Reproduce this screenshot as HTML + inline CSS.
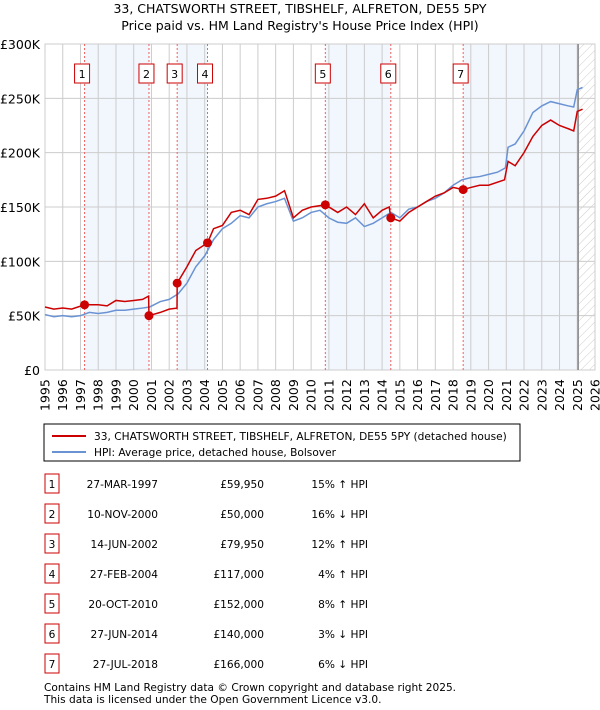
<!DOCTYPE html>
<html><head><meta charset="utf-8"><style>
body{margin:0;background:#fff;font-family:"DejaVu Sans","Liberation Sans",sans-serif;}
#wrap{position:relative;width:600px;height:710px;overflow:hidden}
.t{font-family:"DejaVu Sans","Liberation Sans",sans-serif;fill:#000}
</style></head><body><div id="wrap">
<svg id="svg" width="600" height="710" xmlns="http://www.w3.org/2000/svg">
<defs><pattern id="hatch" width="6" height="6" patternUnits="userSpaceOnUse" patternTransform="rotate(45)"><line x1="0" y1="0" x2="0" y2="6" stroke="#ccc" stroke-width="1"/></pattern></defs>
<text class="t" x="300" y="13" text-anchor="middle" style="font-size:12.5px">33, CHATSWORTH STREET, TIBSHELF, ALFRETON, DE55 5PY</text>
<text class="t" x="300" y="30" text-anchor="middle" style="font-size:12.5px">Price paid vs. HM Land Registry's House Price Index (HPI)</text>
<g id="plot"></g>
<rect x="44" y="424" width="476" height="37" fill="#fff" stroke="#000" stroke-width="1"/>
<line x1="52" y1="436" x2="86" y2="436" stroke="#cc0000" stroke-width="2"/>
<text class="t" x="94" y="440" style="font-size:10.6px">33, CHATSWORTH STREET, TIBSHELF, ALFRETON, DE55 5PY (detached house)</text>
<line x1="52" y1="452" x2="86" y2="452" stroke="#6a93d4" stroke-width="2"/>
<text class="t" x="94" y="456" style="font-size:10.6px">HPI: Average price, detached house, Bolsover</text>
<g id="table"></g>
<text class="t" x="44" y="691" fill="#333" style="font-size:10.6px">Contains HM Land Registry data © Crown copyright and database right 2025.</text>
<text class="t" x="44" y="703" fill="#333" style="font-size:10.6px">This data is licensed under the Open Government Licence v3.0.</text>
</svg></div>
<script>
const yTicks=[0,50,100,150,200,250,300];
const yTickLabels=["£0","£50K","£100K","£150K","£200K","£250K","£300K"];
const years=[1995,1996,1997,1998,1999,2000,2001,2002,2003,2004,2005,2006,2007,2008,2009,2010,2011,2012,2013,2014,2015,2016,2017,2018,2019,2020,2021,2022,2023,2024,2025,2026];
const hpiX=[1995,1995.5,1996,1996.5,1997,1997.5,1998,1998.5,1999,1999.5,2000,2000.5,2000.9,2001.5,2002,2002.5,2003,2003.5,2004,2004.5,2005,2005.5,2006,2006.5,2007,2007.5,2008,2008.5,2009,2009.5,2010,2010.5,2011,2011.5,2012,2012.5,2013,2013.5,2014,2014.5,2015,2015.5,2016,2016.5,2017,2017.5,2018,2018.5,2019,2019.5,2020,2020.5,2020.95,2021.1,2021.5,2022,2022.5,2023,2023.5,2024,2024.5,2024.8,2025,2025.3];
const hpiY=[51,49,50,49,50,53,52,53,55,55,56,57,58,63,65,70,80,95,105,120,130,135,142,140,150,153,155,158,137,140,145,147,140,136,135,140,132,135,140,145,140,148,150,155,158,163,170,175,177,178,180,182,186,205,208,220,237,243,247,245,243,242,258,260];
const ppX=[1995,1995.5,1996,1996.5,1997.23,1998,1998.5,1999,1999.5,2000,2000.5,2000.84,2000.86,2001.5,2002,2002.44,2002.45,2003,2003.5,2004.16,2004.5,2005,2005.5,2006,2006.5,2007,2007.5,2008,2008.5,2009,2009.5,2010,2010.8,2011.5,2012,2012.5,2013,2013.5,2014,2014.4,2014.49,2015,2015.5,2016,2016.5,2017,2017.5,2018,2018.57,2019,2019.5,2020,2020.9,2021.1,2021.5,2022,2022.5,2023,2023.5,2024,2024.5,2024.8,2025,2025.3];
const ppY=[58,56,57,56,60,60,59,64,63,64,65,68,50,53,56,57,80,95,110,117,130,133,145,147,143,157,158,160,165,140,147,150,152,145,150,143,153,140,147,150,140,137,145,150,155,160,163,168,166,168,170,170,175,192,188,200,215,225,230,225,222,220,238,240];
const saleLabels=["1","2","3","4","5","6","7"];
const saleX=[1997.23,2000.86,2002.45,2004.16,2010.8,2014.49,2018.57];
const saleY=[59.95,50,79.95,117,152,140,166];
const saleDates=["27-MAR-1997","10-NOV-2000","14-JUN-2002","27-FEB-2004","20-OCT-2010","27-JUN-2014","27-JUL-2018"];
const salePrices=["£59,950","£50,000","£79,950","£117,000","£152,000","£140,000","£166,000"];
const saleHpi=["15% ↑ HPI","16% ↓ HPI","12% ↑ HPI","4% ↑ HPI","8% ↑ HPI","3% ↓ HPI","6% ↓ HPI"];
const NS="http://www.w3.org/2000/svg";
const X0=45,X1=595,Y0=370,Y1=44;
const sx=v=>X0+(v-1995)/31*(X1-X0);
const sy=v=>Y0-v/300*(Y0-Y1);
const plot=document.getElementById('plot');
function mk(tag,attrs,parent){const e=document.createElementNS(NS,tag);for(const k in attrs)e.setAttribute(k,attrs[k]);(parent||plot).appendChild(e);return e;}
const bands=[[0,1],[2,3],[4,5]];
bands.forEach(b=>{const r=mk('rect',{x:sx(saleX[b[0]]),y:Y1,width:sx(saleX[b[1]])-sx(saleX[b[0]]),height:Y0-Y1,fill:'#eef3fc',opacity:0.75});

});
const lb=mk('rect',{x:sx(saleX[6]),y:Y1,width:sx(2025.05)-sx(saleX[6]),height:Y0-Y1,fill:'#eef3fc',opacity:0.75});


const ht=mk('rect',{x:sx(2025.05),y:Y1,width:X1-sx(2025.05),height:Y0-Y1,fill:'url(#hatch)'});


years.forEach(y=>{const l=mk('line',{x1:sx(y),x2:sx(y),y1:Y1,y2:Y0,stroke:'#ccc','stroke-width':1});


const t=mk('text',{class:'t',transform:`translate(${sx(y)+4.5},${Y0+41}) rotate(-90)`,style:'font-size:12.5px'});t.textContent=y;

});
yTicks.forEach((v,i)=>{const l=mk('line',{x1:X0,x2:X1,y1:sy(v),y2:sy(v),stroke:'#ccc','stroke-width':1});


const t=mk('text',{class:'t',x:40,y:sy(v)+5,'text-anchor':'end',style:'font-size:12.5px'});t.textContent=yTickLabels[i];

});
const bd=mk('rect',{x:X0,y:Y1,width:X1-X0,height:Y0-Y1,fill:'none',stroke:'#ccc'});


const nl=mk('line',{x1:sx(2025.05),x2:sx(2025.05),y1:Y1,y2:Y0,stroke:'#888','stroke-width':1.5});


saleX.forEach((x,i)=>{const l=mk('line',{x1:sx(x),x2:sx(x),y1:Y1,y2:Y0,stroke:'#f06060','stroke-width':1,'stroke-dasharray':'2,2'});


const r=mk('rect',{x:sx(x)-10,y:64,width:15,height:19,fill:'#fff',stroke:'#cc0000'});


const t=mk('text',{class:'t',x:sx(x)-2.5,y:78,'text-anchor':'middle',style:'font-size:11px'});t.textContent=saleLabels[i];

});
const hp=mk('polyline',{points:hpiX.map((x,i)=>sx(x)+','+sy(hpiY[i])).join(' '),fill:'none',stroke:'#6a93d4','stroke-width':1.5});


const pp=mk('polyline',{points:ppX.map((x,i)=>sx(x)+','+sy(ppY[i])).join(' '),fill:'none',stroke:'#cc0000','stroke-width':1.5});


saleX.forEach((x,i)=>{const c=mk('circle',{cx:sx(x),cy:sy(saleY[i]),r:4.5,fill:'#cc0000'});

});
const tb=document.getElementById('table');
saleLabels.forEach((s,i)=>{const y=484+i*30;
const r=mk('rect',{x:45,y:y-10,width:14,height:19,fill:'#fff',stroke:'#cc0000'},tb);


const vals=[[52,s,'middle'],[158,saleDates[i],'end'],[264,salePrices[i],'end'],[368,saleHpi[i],'end']];
vals.forEach(v=>{const t=mk('text',{class:'t',x:v[0],y:y+4,'text-anchor':v[2],style:'font-size:10.6px'},tb);t.textContent=v[1];

});});
</script></body></html>
